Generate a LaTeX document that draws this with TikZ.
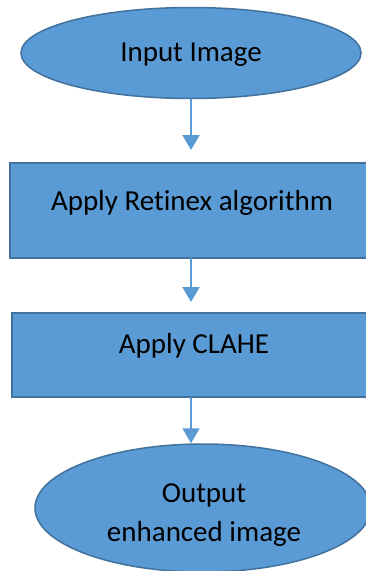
\documentclass[tikz,border=0pt]{standalone}
\usepackage{fontspec}
\setmainfont{Carlito}[Ligatures=CommonOff]
\usetikzlibrary{shapes.geometric,arrows.meta}
\definecolor{fillblue}{HTML}{5B9BD5}
\definecolor{edgeblue}{HTML}{41719C}
\begin{document}
\begin{tikzpicture}[x=1pt,y=-1pt,
  oval/.style={ellipse,draw=edgeblue,fill=fillblue,line width=1.5pt,inner sep=0pt},
  stepbox/.style={rectangle,draw=edgeblue,fill=fillblue,line width=1.8pt,inner sep=0pt},
  caption/.style={font=\fontsize{29}{39}\selectfont,align=center,inner sep=0pt,text=black},
  flow/.style={draw=fillblue,line width=2pt,-{Triangle[width=17pt,length=15pt]}}
]
\useasboundingbox (0,0) rectangle (366,571);
\clip (0,0) rectangle (366,571);

% start ellipse
\node[oval,minimum width=340pt,minimum height=91pt] (start) at (191,53) {};
\node[caption] (startText) at (191,55) {Input Image};

% processing steps
\node[stepbox,minimum width=372pt,minimum height=95pt] (retinex) at (196,210.5) {};
\node[caption] (retinexText) at (192,203) {Apply Retinex algorithm};

\node[stepbox,minimum width=372pt,minimum height=84pt] (clahe) at (198,355) {};
\node[caption] (claheText) at (194,346) {Apply CLAHE};

% end ellipse
\node[oval,minimum width=336pt,minimum height=128pt] (final) at (203,508) {};
\node[caption] (finalText) at (204,515) {Output\\enhanced image};

% connectors
\coordinate (a1e) at (191,150);
\coordinate (a2s) at (191,258);
\coordinate (a2e) at (191,302);
\coordinate (a3s) at (191,397);
\coordinate (a3e) at (191,444);
\draw[flow] (start.south) -- (a1e);
\draw[flow] (a2s) -- (a2e);
\draw[flow] (a3s) -- (final.north -| a3e);
\end{tikzpicture}
\end{document}
